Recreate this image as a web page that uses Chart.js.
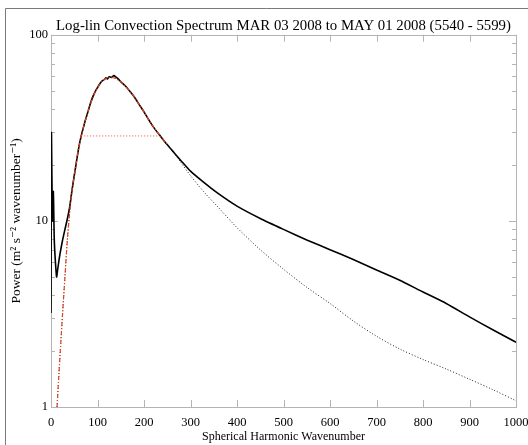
<!DOCTYPE html>
<html>
<head>
<meta charset="utf-8">
<script src="https://cdn.jsdelivr.net/npm/chart.js@4.4.0/dist/chart.umd.min.js"></script>
<style>
  html, body { margin: 0; padding: 0; background: #fff; }
  #wrap { width: 528px; height: 445px; }
</style>
</head>
<body>
<div id="wrap"><canvas id="spectrum" width="528" height="445"></canvas></div>
<script>
// observed spectrum (solid black)
const obsWave = [0, 1, 3, 5, 7, 9, 12, 14, 17, 20, 25, 30, 35, 40, 45, 50, 55, 60, 65, 70, 75, 80, 85, 90, 95, 100, 105, 110, 115, 118, 121, 125, 130, 135, 140, 145, 150, 160, 170, 180, 190, 200, 210, 220, 233, 245, 260, 280, 300, 330, 360, 400, 450, 500, 550, 600, 650, 700, 750, 800, 850, 900, 950, 1000];
const obsPower = [3.2, 29.7, 10, 14.4, 8, 6.3, 5.0, 5.4, 6.1, 6.8, 7.9, 9.0, 10.2, 11.8, 14.5, 17.5, 21, 25, 28.6, 32, 35.5, 39, 43, 46.5, 49.5, 52, 54.5, 56.5, 57.5, 58.8, 57.8, 59.5, 59, 60.3, 59.2, 57.8, 56, 53, 49.5, 46, 42, 38.5, 35, 32, 29, 26.5, 24, 21, 18.5, 16, 14, 12, 10.3, 9.0, 7.9, 7.0, 6.2, 5.45, 4.8, 4.15, 3.6, 3.05, 2.6, 2.23];

// model fit (dotted black)
const modelWave = [13, 17, 21, 25, 30, 35, 40, 45, 50, 55, 60, 65, 70, 80, 90, 100, 110, 120, 130, 140, 150, 160, 170, 180, 190, 200, 210, 220, 233, 245, 260, 280, 300, 330, 360, 400, 450, 500, 550, 600, 650, 700, 750, 800, 850, 900, 950, 1000];
const modelPower = [1.0, 1.5, 2.2, 3.2, 5.0, 7.8, 11, 14.5, 17.5, 21, 25, 28.6, 32, 39, 46, 52, 56.5, 58.5, 59, 58, 56, 53, 49.5, 46, 42, 38.5, 35, 32, 29, 26.5, 24, 20.5, 17.5, 14.2, 11.8, 9.2, 7.0, 5.5, 4.4, 3.6, 2.9, 2.4, 2.05, 1.8, 1.6, 1.41, 1.24, 1.08];

// model fit over the peak (red dash-dot)
const fitWave = [13, 17, 21, 25, 30, 35, 40, 45, 50, 55, 60, 65, 70, 80, 90, 100, 110, 120, 130, 140, 150, 160, 170, 180, 190, 200, 210, 220, 233, 250];
const fitPower = [1.0, 1.5, 2.2, 3.2, 5.0, 7.8, 11, 14.5, 17.5, 21, 25, 28.6, 32, 39, 46, 52, 56.5, 58.5, 59, 58, 56, 53, 49.5, 46, 42, 38.5, 35, 32, 29, 25.8];

// half-maximum width (red dotted)
const halfWave = [65, 233];
const halfPower = [28.6, 28.6];

const xTicks = [0, 100, 200, 300, 400, 500, 600, 700, 800, 900, 1000];
const yLabels = [1, 10, 100];

const serif = '"Liberation Serif", "DejaVu Serif", serif';
const axisGray = '#b4b4b4';

const pts = (xs, ys) => xs.map((x, i) => ({ x: x, y: ys[i] }));

// outer frame, axis box and inward tick marks (under the curves)
const frameAndTicks = {
  id: 'frameAndTicks',
  beforeDraw(chart) {
    const c = chart.ctx;
    c.save();
    c.strokeStyle = '#7a7a7a';
    c.lineWidth = 1;
    c.beginPath();
    c.moveTo(5.5, 445);
    c.lineTo(5.5, 8.5);
    c.lineTo(528, 8.5);
    c.stroke();
    c.restore();
  },
  beforeDatasetsDraw(chart) {
    const c = chart.ctx;
    const a = chart.chartArea;
    const xs = chart.scales.x, ys = chart.scales.y;
    c.save();
    c.strokeStyle = axisGray;
    c.lineWidth = 1;
    c.strokeRect(Math.round(a.left) + 0.5, Math.round(a.top) + 0.5,
      Math.round(a.right - a.left), Math.round(a.bottom - a.top));
    c.beginPath();
    xTicks.forEach(v => {
      const px = Math.round(xs.getPixelForValue(v)) + 0.5;
      c.moveTo(px, a.bottom); c.lineTo(px, a.bottom - 7);
      c.moveTo(px, a.top); c.lineTo(px, a.top + 7);
    });
    [1, 10].forEach(dec => {
      for (let m = 1; m <= 10; m++) {
        const v = dec * m;
        const py = Math.round(ys.getPixelForValue(v)) + 0.5;
        const len = (m === 1 || m === 10) ? 7 : 4;
        c.moveTo(a.left, py); c.lineTo(a.left + len, py);
        c.moveTo(a.right, py); c.lineTo(a.right - len, py);
      }
    });
    c.stroke();
    c.restore();
  }
};

new Chart(document.getElementById('spectrum'), {
  type: 'line',
  data: {
    datasets: [
      {
        label: 'Observed',
        data: pts(obsWave, obsPower),
        borderColor: '#000',
        borderWidth: 1.6,
        pointRadius: 0,
        tension: 0.2,
        order: 3
      },
      {
        label: 'Model',
        data: pts(modelWave, modelPower),
        borderColor: '#222',
        borderWidth: 1,
        borderDash: [1, 2],
        pointRadius: 0,
        tension: 0.3,
        order: 2
      },
      {
        label: 'Fit',
        data: pts(fitWave, fitPower),
        borderColor: '#e8401c',
        borderWidth: 1.2,
        borderDash: [4, 2, 1, 2],
        pointRadius: 0,
        tension: 0.3,
        order: 0
      },
      {
        label: 'Half width',
        data: pts(halfWave, halfPower),
        borderColor: '#f04a30',
        borderWidth: 1,
        borderDash: [1, 2],
        pointRadius: 0,
        order: 1
      }
    ]
  },
  options: {
    responsive: false,
    animation: false,
    layout: { padding: { left: 5, right: 12, top: 0, bottom: 0 } },
    plugins: {
      legend: { display: false },
      tooltip: { enabled: false },
      title: {
        display: true,
        fullSize: false,
        text: 'Log-lin Convection Spectrum MAR 03 2008 to MAY 01 2008 (5540 - 5599)',
        color: '#000',
        font: { family: serif, size: 14.8, weight: 'normal' },
        padding: { top: 17, bottom: 0 }
      }
    },
    scales: {
      x: {
        type: 'linear',
        min: 0,
        max: 1000,
        grid: { display: false, drawTicks: false },
        border: { display: false },
        afterBuildTicks: s => { s.ticks = xTicks.map(v => ({ value: v })); },
        ticks: {
          color: '#000',
          padding: 8,
          maxRotation: 0,
          autoSkip: false,
          font: { family: serif, size: 12.5 },
          callback: v => String(v)
        },
        title: {
          display: true,
          text: 'Spherical Harmonic Wavenumber',
          color: '#000',
          font: { family: serif, size: 12 },
          padding: { top: 0, bottom: 1 }
        },
        afterFit: s => { s.height = 38; s.paddingLeft = 0; s.paddingRight = 0; }
      },
      y: {
        type: 'logarithmic',
        min: 1,
        max: 100,
        grid: { display: false, drawTicks: false },
        border: { display: false },
        afterBuildTicks: s => { s.ticks = yLabels.map(v => ({ value: v })); },
        ticks: {
          color: '#000',
          padding: 3,
          autoSkip: false,
          font: { family: serif, size: 12.5 },
          callback: v => String(v)
        },
        title: {
          display: true,
          text: 'Power (m\u00B2 s\u207B\u00B2 wavenumber\u207B\u00B9)',
          color: '#000',
          font: { family: serif, size: 13.5 },
          padding: { top: 3, bottom: 0 }
        },
        afterFit: s => { s.width = 46; s.paddingTop = 0; s.paddingBottom = 0; }
      }
    }
  },
  plugins: [frameAndTicks]
});
</script>
</body>
</html>
